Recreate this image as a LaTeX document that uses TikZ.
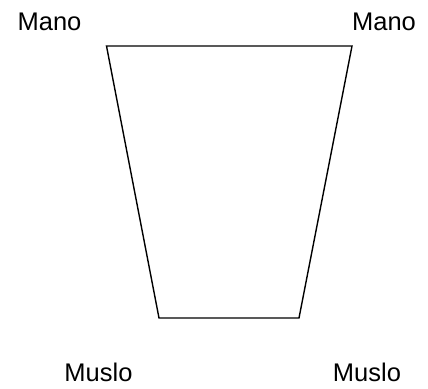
\documentclass[tikz,border=0pt]{standalone}
\usepackage{fontspec}
\setmainfont{Liberation Sans}
\begin{document}
\begin{tikzpicture}[
  x=1pt, y=-1pt,
  cuplbl/.style = {font=\fontsize{25.5}{30}\selectfont, inner sep=0pt},
  cupedge/.style = {black, line width=1.4pt, line join=miter}
]
  \useasboundingbox (0,0) rectangle (428,388);
  % esquinas
  \coordinate (tl) at (106.5,46);
  \coordinate (tr) at (352,46);
  \coordinate (br) at (299,318);
  \coordinate (bl) at (159,318);
  % contorno
  \draw[cupedge] (tl) -- (tr) -- (br) -- (bl) -- cycle;
  % etiquetas
  \node[cuplbl] (manoL) at (49.5,22) {Mano};
  \node[cuplbl] (manoR) at (384,22) {Mano};
  \node[cuplbl] (musloL) at (98.5,372) {Muslo};
  \node[cuplbl] (musloR) at (367,372) {Muslo};
\end{tikzpicture}
\end{document}
